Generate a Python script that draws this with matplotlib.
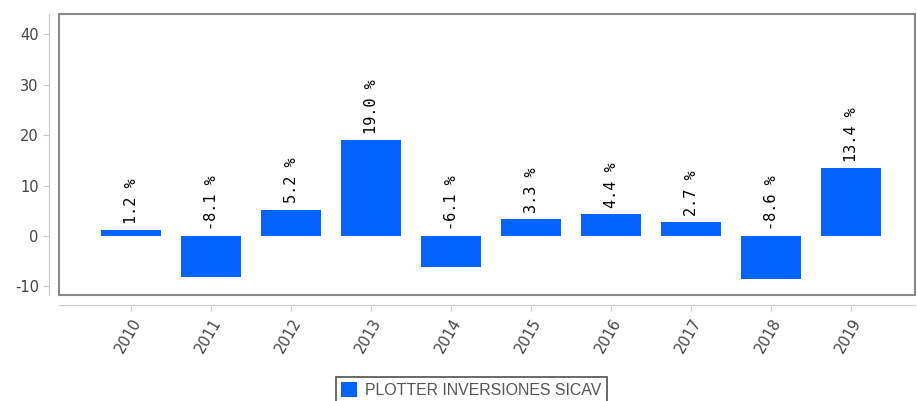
import numpy as np
import matplotlib
matplotlib.use("Agg")
import matplotlib.pyplot as plt
from matplotlib.patches import Rectangle

years = ["2010", "2011", "2012", "2013", "2014", "2015", "2016", "2017", "2018", "2019"]
returns = [1.2, -8.1, 5.2, 19.0, -6.1, 3.3, 4.4, 2.7, -8.6, 13.4]
series_name = "PLOTTER INVERSIONES SICAV"

bar_color = "#0062ff"
grey = "#444444"
plt.rcParams["axes.unicode_minus"] = False

fig = plt.figure(figsize=(9.17, 4.01), dpi=100, facecolor="w")
ax = fig.add_axes([59 / 917, 1 - 295 / 401, (915 - 59) / 917, (295 - 14) / 401])

x = np.arange(len(years))
bars = ax.bar(x, returns, width=0.75, color=bar_color, label=series_name, zorder=2)

ax.set_xlim(-0.9, len(years) - 0.2)
ax.set_ylim(-11.7, 44)
ax.set_yticks([-10, 0, 10, 20, 30, 40])
ax.set_xticks(x)
ax.set_xticklabels(years)

# offset axis lines plus a grey frame around the plot area
for side in ["top", "right"]:
    ax.spines[side].set_visible(False)
ax.spines["left"].set_position(("outward", 7))
ax.spines["bottom"].set_position(("outward", 7))
ax.spines["left"].set_color("#c8c8c8")
ax.spines["bottom"].set_color("#c8c8c8")
ax.add_patch(Rectangle((0, 0), 1, 1, transform=ax.transAxes, fill=False,
                       edgecolor="#888888", linewidth=1.5, clip_on=False, zorder=3))

ax.tick_params(axis="both", colors="#c8c8c8", labelcolor=grey, labelsize=10.5, length=4)
ax.tick_params(axis="x", pad=4)
for lbl in ax.get_xticklabels():
    lbl.set_rotation(60)
    lbl.set_ha("right")
    lbl.set_rotation_mode("anchor")

for b, v in zip(bars, returns):
    ax.annotate(f"{v:.1f} %", (b.get_x() + b.get_width() / 2, max(v, 0)),
                xytext=(0, 4.5), textcoords="offset points", rotation=90,
                ha="center", va="bottom", fontsize=11, family="DejaVu Sans Mono",
                color="black")

leg = fig.legend(loc="upper center", bbox_to_anchor=(0.514, 1 - 369 / 401), frameon=True,
                 fancybox=False, edgecolor="#222222", handlelength=1.0,
                 handleheight=1.0, handletextpad=0.5, borderpad=0.35,
                 prop={"family": "Liberation Sans", "size": 11.4})
for t in leg.get_texts():
    t.set_color("#555555")
leg.get_frame().set_linewidth(1.2)

fig.savefig("out.png", dpi=100, facecolor="w")
